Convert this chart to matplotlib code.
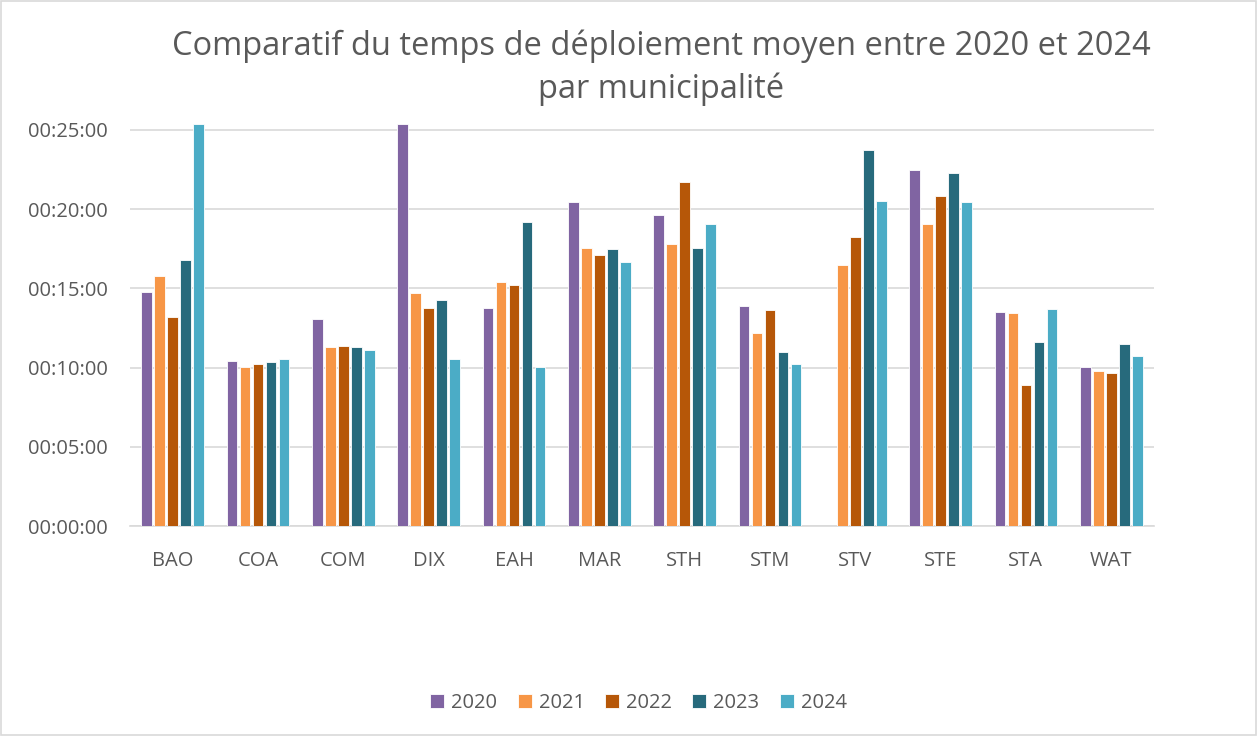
import numpy as np
import matplotlib
matplotlib.use("Agg")
import matplotlib.pyplot as plt
from matplotlib.ticker import FuncFormatter, MultipleLocator
from matplotlib.patches import Rectangle

plt.rcParams['font.family'] = ['Open Sans', 'DejaVu Sans']

# Municipalities and mean deployment time (minutes) per year
municipalites = ['BAO', 'COA', 'COM', 'DIX', 'EAH', 'MAR', 'STH', 'STM', 'STV', 'STE', 'STA', 'WAT']
annees = ['2020', '2021', '2022', '2023', '2024']

t2020 = [14.75, 10.44, 13.07, 25.40, 13.78, 20.46, 19.60, 13.91, 0.0, 22.44, 13.51, 10.04]
t2021 = [15.80, 10.04, 11.30, 14.68, 15.40, 17.56, 17.77, 12.21, 16.47, 19.03, 13.47, 9.77]
t2022 = [13.17, 10.21, 11.37, 13.76, 15.19, 17.10, 21.72, 13.63, 18.24, 20.84, 8.93, 9.64]
t2023 = [16.76, 10.36, 11.28, 14.24, 19.18, 17.48, 17.54, 10.99, 23.70, 22.31, 11.60, 11.49]
t2024 = [25.38, 10.55, 11.11, 10.55, 10.04, 16.68, 19.03, 10.25, 20.50, 20.48, 13.70, 10.74]

series = [t2020, t2021, t2022, t2023, t2024]
couleurs = ['#8064A2', '#F79646', '#B65708', '#276A7C', '#4BACC6']

fig = plt.figure(figsize=(12.57, 7.36), dpi=100)
ax = fig.add_axes([0.1034, 0.2853, 0.8146, 0.549])

x = np.arange(len(municipalites))
step = 0.152
width = 0.125
for i, (vals, col, an) in enumerate(zip(series, couleurs, annees)):
    ax.bar(x + (i - 2) * step, vals, width=width, color=col, label=an,
           edgecolor='white', linewidth=0.6, zorder=3)

ax.set_xlim(-0.5, len(municipalites) - 0.5)
ax.set_ylim(0, 25.5)
ax.yaxis.set_major_locator(MultipleLocator(5))
ax.yaxis.set_major_formatter(FuncFormatter(lambda v, p: "00:%02d:00" % int(round(v))))
ax.set_xticks(x)
ax.set_xticklabels(municipalites)
ax.grid(axis='y', color='#D9D9D9', linewidth=1.2, zorder=0)
for s in ['top', 'right', 'left']:
    ax.spines[s].set_visible(False)
ax.spines['bottom'].set_color('#D9D9D9')
ax.spines['bottom'].set_linewidth(1.2)
ax.tick_params(axis='both', length=0, labelsize=14.5, colors='#595959')
ax.tick_params(axis='x', pad=18)
ax.tick_params(axis='y', pad=16)

fig.suptitle("Comparatif du temps de déploiement moyen entre 2020 et 2024\npar municipalité",
             x=0.526, y=0.96, fontsize=23.5, color='#595959', linespacing=1.38)

ax.legend(loc='center', bbox_to_anchor=(0.508, 0.045), bbox_transform=fig.transFigure,
          ncol=5, frameon=False, fontsize=14.5, labelcolor='#595959',
          handlelength=0.7, handleheight=0.7, handletextpad=0.35, columnspacing=1.0)

# chart area border
fig.patches.append(Rectangle((0.0005, 0.001), 0.999, 0.998, transform=fig.transFigure,
                             fill=False, edgecolor='#D9D9D9', linewidth=1.2))

fig.savefig("out.png", dpi=100, facecolor='white')
